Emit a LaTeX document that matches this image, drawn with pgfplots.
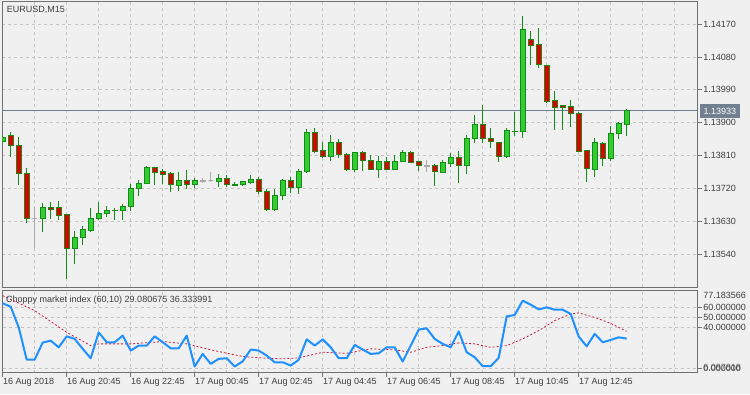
\documentclass[border=0pt]{standalone}
\usepackage{fontspec}
\setmainfont{Liberation Sans}
\usepackage{pgfplots}
\usepackage{pgfplotstable}
\usepgfplotslibrary{statistics}
\pgfplotsset{compat=1.18}
\definecolor{bg}{RGB}{240,240,240}
\definecolor{gridc}{RGB}{196,196,196}
\definecolor{framec}{RGB}{112,112,112}
\definecolor{txt}{RGB}{60,60,60}
\definecolor{wick}{RGB}{20,140,20}
\definecolor{bull}{RGB}{50,205,50}
\definecolor{bear}{RGB}{225,0,0}
\definecolor{doji}{RGB}{170,170,170}
\definecolor{cmiblue}{RGB}{30,144,255}
\definecolor{cmired}{RGB}{200,30,60}
\definecolor{pricec}{RGB}{112,128,144}

\pgfplotstableread{
i o h l c
0 1.13850 1.13866 1.13847 1.13861
1 1.13864 1.13875 1.13806 1.13839
2 1.13839 1.13861 1.13730 1.13762
3 1.13762 1.13776 1.13626 1.13639
4 1.13638 1.13669 1.13557 1.13638
5 1.13639 1.13680 1.13601 1.13669
6 1.13669 1.13683 1.13637 1.13663
7 1.13667 1.13686 1.13634 1.13645
8 1.13648 1.13649 1.13472 1.13555
9 1.13557 1.13604 1.13513 1.13585
10 1.13585 1.13617 1.13565 1.13607
11 1.13605 1.13667 1.13601 1.13637
12 1.13637 1.13683 1.13634 1.13653
13 1.13653 1.13672 1.13642 1.13661
14 1.13660 1.13667 1.13634 1.13661
15 1.13659 1.13678 1.13634 1.13672
16 1.13670 1.13732 1.13659 1.13721
17 1.13719 1.13743 1.13700 1.13734
18 1.13734 1.13782 1.13732 1.13778
19 1.13778 1.13780 1.13730 1.13764
20 1.13766 1.13773 1.13732 1.13759
21 1.13760 1.13766 1.13711 1.13730
22 1.13728 1.13766 1.13714 1.13743
23 1.13741 1.13771 1.13718 1.13730
24 1.13730 1.13748 1.13721 1.13741
25 1.13740 1.13748 1.13736 1.13741
26 1.13741 1.13766 1.13739 1.13741
27 1.13739 1.13760 1.13723 1.13748
28 1.13748 1.13757 1.13723 1.13732
29 1.13729 1.13737 1.13728 1.13732
30 1.13730 1.13741 1.13728 1.13739
31 1.13736 1.13757 1.13732 1.13746
32 1.13746 1.13752 1.13704 1.13711
33 1.13713 1.13718 1.13659 1.13664
34 1.13664 1.13718 1.13659 1.13702
35 1.13700 1.13745 1.13689 1.13743
36 1.13743 1.13751 1.13707 1.13722
37 1.13722 1.13773 1.13705 1.13768
38 1.13766 1.13883 1.13762 1.13874
39 1.13874 1.13885 1.13818 1.13821
40 1.13823 1.13848 1.13804 1.13807
41 1.13807 1.13866 1.13795 1.13846
42 1.13846 1.13855 1.13804 1.13814
43 1.13814 1.13816 1.13768 1.13771
44 1.13771 1.13821 1.13766 1.13819
45 1.13819 1.13823 1.13769 1.13796
46 1.13798 1.13812 1.13771 1.13773
47 1.13773 1.13809 1.13748 1.13795
48 1.13795 1.13807 1.13771 1.13773
49 1.13773 1.13812 1.13771 1.13795
50 1.13795 1.13825 1.13793 1.13818
51 1.13818 1.13823 1.13789 1.13792
52 1.13793 1.13794 1.13769 1.13782
53 1.13781 1.13798 1.13766 1.13782
54 1.13782 1.13787 1.13727 1.13766
55 1.13764 1.13798 1.13762 1.13790
56 1.13788 1.13816 1.13780 1.13806
57 1.13806 1.13822 1.13734 1.13782
58 1.13782 1.13866 1.13761 1.13857
59 1.13857 1.13921 1.13845 1.13894
60 1.13894 1.13949 1.13845 1.13857
61 1.13858 1.13886 1.13832 1.13848
62 1.13846 1.13847 1.13793 1.13807
63 1.13807 1.13885 1.13806 1.13880
64 1.13875 1.13930 1.13864 1.13876
65 1.13875 1.14192 1.13857 1.14154
66 1.14128 1.14151 1.14058 1.14111
67 1.14113 1.14158 1.14049 1.14060
68 1.14058 1.14059 1.13957 1.13958
69 1.13962 1.13987 1.13880 1.13942
70 1.13946 1.13949 1.13880 1.13943
71 1.13944 1.13962 1.13887 1.13926
72 1.13926 1.13930 1.13821 1.13822
73 1.13823 1.13824 1.13739 1.13775
74 1.13773 1.13859 1.13751 1.13846
75 1.13844 1.13848 1.13782 1.13803
76 1.13803 1.13891 1.13796 1.13871
77 1.13871 1.13903 1.13855 1.13898
78 1.13896 1.13938 1.13864 1.13933
}\candles

\pgfplotstableread{
i v
0 64.0
1 60.7
2 40.3
3 8.4
4 8.4
5 25.2
6 27.1
7 20.5
8 31.4
9 28.8
10 19.0
11 9.7
12 35.3
13 25.5
14 25.5
15 32.1
16 17.3
17 22.2
18 22.2
19 31.4
20 25.5
21 19.5
22 19.5
23 32.1
24 1.5
25 14.0
26 4.1
27 9.1
28 9.7
29 1.5
30 6.7
31 18.3
32 17.3
33 12.3
34 5.7
35 5.7
36 2.5
37 8.1
38 28.4
39 22.2
40 28.4
41 20.5
42 9.7
43 9.7
44 22.9
45 18.3
46 14.0
47 14.6
48 20.5
49 20.5
50 6.4
51 22.2
52 38.0
53 39.3
54 28.8
55 23.9
56 20.5
57 36.3
58 15.6
59 10.7
60 1.8
61 1.8
62 10.1
63 51.1
64 52.5
65 66.6
66 62.7
67 58.0
68 60.0
69 57.7
70 57.7
71 53.5
72 31.1
73 21.5
74 33.8
75 25.5
76 27.8
77 30.4
78 29.08
}\cmi

\pgfplotstableread{
i v
0 71.6
4 56.8
8 35.3
11 22.2
12 23.9
16 23.9
20 26.2
23 23.9
26 18.0
30 11.4
33 9.7
35 9.1
37 10.1
40 15.6
43 14.6
46 19.0
49 18.0
51 15.6
53 20.5
55 22.2
57 24.9
59 23.9
61 20.5
63 22.2
65 28.8
67 37.0
69 46.9
71 53.5
72 54.5
74 50.1
76 44.2
78 36.33
}\cmima

\begin{document}
\begin{tikzpicture}
\path[use as bounding box, fill=bg] (0pt,0pt) rectangle (750pt,394pt);
\pgfplotsset{
  mt/.style={
    scale only axis, width=695.2pt, anchor=south west,
    xmin=-0.025, xmax=86.875,
    axis line style={framec, line width=1pt},
    tick style={framec, line width=0.8pt},
    tick align=outside,
    major tick length=4pt,
    minor tick length=0pt,
    xtick pos=left, ytick pos=right, yticklabel pos=right,
    grid style={gridc, dash pattern=on 3pt off 3pt, line width=0.8pt},
    minor grid style={gridc, dash pattern=on 3pt off 3pt, line width=0.8pt},
    ymajorgrids, xmajorgrids, xminorgrids,
    xtick={0,8,...,72},
    minor xtick={4,12,20,28,36,44,52,60,68,76,80,84},
    tick label style={font=\fontsize{9}{10}\selectfont, text=txt},
    yticklabel style={anchor=west, inner sep=1.5pt},
  },
  candle/.style={
    boxplot/draw direction=y,
    boxplot/box extend=0.6,
    boxplot/whisker extend=0,
    boxplot/every median/.style={draw=none},
    line width=0.9pt, solid,
  },
}
% ---------------- price panel ----------------
\begin{axis}[mt, at={(2.5pt,106.7pt)}, height=285.3pt,
  ymin=1.134497, ymax=1.142303,
  ytick={1.1354,1.1363,1.1372,1.1381,1.1390,1.1399,1.1408,1.1417},
  yticklabels={1.13540,1.13630,1.13720,1.13810,1.13900,1.13990,1.14080,1.14170},
  xticklabels={}, xtick style={draw=none}]
\addplot[pricec, line width=0.8pt] coordinates {(-1,1.13933) (90,1.13933)};
\pgfplotstablegetrowsof{\candles}
\pgfmathtruncatemacro\lastrow{\pgfplotsretval-1}
\foreach \r in {0,...,\lastrow}{
  \pgfplotstablegetelem{\r}{i}\of\candles \let\ci\pgfplotsretval
  \pgfplotstablegetelem{\r}{o}\of\candles \let\co\pgfplotsretval
  \pgfplotstablegetelem{\r}{h}\of\candles \let\ch\pgfplotsretval
  \pgfplotstablegetelem{\r}{l}\of\candles \let\cl\pgfplotsretval
  \pgfplotstablegetelem{\r}{c}\of\candles \let\cc\pgfplotsretval
  \ifdim\co pt<\cc pt
    \let\bq\co \let\tq\cc \def\bodyc{bull}\def\linec{wick}%
  \else\ifdim\co pt>\cc pt
    \let\bq\cc \let\tq\co \def\bodyc{bear}\def\linec{wick}%
  \else
    \let\bq\co \let\tq\cc \def\bodyc{doji}\def\linec{doji}%
  \fi\fi
  \edef\temp{\noexpand\addplot[candle, draw=\linec, fill=\bodyc,
    boxplot prepared={draw position=\ci, lower whisker=\cl, lower quartile=\bq,
      median=\bq, upper quartile=\tq, upper whisker=\ch}] coordinates {};}
  \temp
}
\end{axis}
% ---------------- indicator panel ----------------
\begin{axis}[mt, at={(2.5pt,21.3pt)}, height=82.7pt,
  ymin=-4.6, ymax=77.18,
  ytick={0,40,50,60},
  yticklabels={0.000000,40.000000,50.000000,60.000000},
  xticklabels={16 Aug 2018,16 Aug 20:45,16 Aug 22:45,17 Aug 00:45,17 Aug 02:45,17 Aug 04:45,17 Aug 06:45,17 Aug 08:45,17 Aug 10:45,17 Aug 12:45},
  xticklabel style={anchor=north west, inner sep=0pt, xshift=0.3pt, yshift=-1.8pt}]
\addplot[cmired, line width=0.8pt, dash pattern=on 2pt off 2pt] table[x=i,y=v] {\cmima};
\addplot[cmiblue, line width=2pt, line join=round] table[x=i,y=v] {\cmi};
\end{axis}
% ---------------- texts ----------------
\node[anchor=base west, inner sep=0pt, text=txt, font=\fontsize{9}{10}\selectfont] at (6.7pt,381.5pt) {EURUSD,M15};
\node[anchor=base west, inner sep=0pt, text=txt, font=\fontsize{9}{10}\selectfont] at (6pt,92pt) {Choppy market index (60,10) 29.080675 36.333991};
\node[anchor=west, inner sep=0pt, text=txt, font=\fontsize{9}{10}\selectfont] at (703.2pt,99pt) {77.183566};
\node[anchor=west, inner sep=0pt, text=txt, font=\fontsize{9}{10}\selectfont, opacity=0.7] at (703.2pt,26.5pt) {6.087818};
\node[anchor=west, fill=pricec, text=white, inner xsep=3.5pt, minimum height=13pt, font=\fontsize{9}{10}\selectfont] at (700pt,283pt) {1.13933};
\end{tikzpicture}
\end{document}
